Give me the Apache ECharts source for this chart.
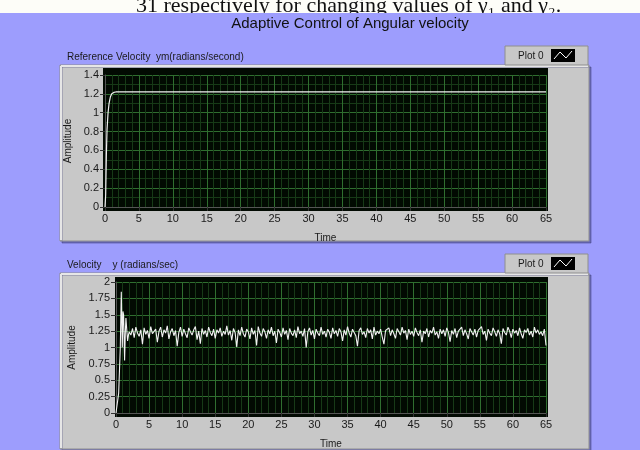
<!DOCTYPE html>
<html>
<head>
<meta charset="utf-8">
<script src="https://cdn.jsdelivr.net/npm/echarts@6/dist/echarts.min.js"></script>
<style>
  html, body { margin: 0; padding: 0; background: #9d9dfd; }
  #chart { width: 640px; height: 450px; }
</style>
</head>
<body>
<div id="chart"></div>
<script>
// reference velocity ym, explicit (time, value) pairs
const refTime = [0, 0.1, 0.2, 0.3, 0.45, 0.6, 0.8, 1.0, 1.3, 1.6, 65];
const refVel = [0, 0.13, 0.55, 0.82, 1.0, 1.1, 1.17, 1.2, 1.215, 1.22, 1.22];

// measured velocity y, start-up transient
const velStartTime = [0, 0.3, 0.4, 0.55, 0.65, 0.8, 0.95, 1.05, 1.15, 1.3, 1.4, 1.5, 1.6, 1.75, 1.9];
const velStart = [0, 0.03, 0.3, 0.32, 1.0, 1.85, 1.0, 1.55, 1.5, 0.8, 1.2, 1.45, 1.42, 1.1, 1.2];

// measured velocity y, steady part sampled every 0.25 s from t = 2
const velSteadyStart = 2;
const velSteadyStep = 0.25;
const velSteady = [
  1.24, 1.19, 1.29, 1.15, 1.31, 1.22, 1.17, 1.27, 1.05, 1.30, 1.20, 1.26, 1.14, 1.32, 1.21, 1.18, 1.28, 1.08, 1.25, 1.31,
  1.16, 1.27, 1.22, 1.33, 1.13, 1.24, 1.29, 1.18, 1.26, 1.02, 1.23, 1.31, 1.17, 1.28, 1.21, 1.15, 1.30, 1.24, 1.19, 1.27,
  1.32, 1.12, 1.25, 1.06, 1.29, 1.20, 1.26, 1.16, 1.31, 1.23, 1.18, 1.28, 1.14, 1.27, 1.22, 1.30, 1.17, 1.25, 1.20, 1.33,
  1.19, 1.26, 1.11, 1.29, 1.23, 1.01, 1.27, 1.18, 1.31, 1.21, 1.16, 1.28, 1.24, 1.13, 1.30, 1.20, 1.26, 1.03, 1.32, 1.22,
  1.17, 1.29, 1.24, 1.14, 1.27, 1.21, 1.31, 1.18, 1.25, 1.07, 1.28, 1.23, 1.16, 1.30, 1.20, 1.26, 1.12, 1.29, 1.22, 1.18,
  1.27, 1.15, 1.32, 1.21, 1.25, 1.17, 1.29, 1.00, 1.24, 1.30, 1.19, 1.26, 1.13, 1.28, 1.22, 1.18, 1.31, 1.20, 1.25, 1.16,
  1.28, 1.23, 1.14, 1.30, 1.21, 1.26, 1.17, 1.29, 1.24, 1.10, 1.27, 1.19, 1.32, 1.22, 1.16, 1.28, 1.25, 1.18, 1.02, 1.26,
  1.30, 1.20, 1.24, 1.15, 1.29, 1.22, 1.27, 1.13, 1.31, 1.19, 1.25, 1.21, 1.28, 1.16, 1.05, 1.26, 1.23, 1.30, 1.18, 1.27,
  1.21, 1.14, 1.29, 1.24, 1.19, 1.31, 1.22, 1.26, 1.12, 1.28, 1.20, 1.25, 1.17, 1.30, 1.23, 1.18, 1.27, 1.08, 1.25, 1.21,
  1.29, 1.16, 1.26, 1.22, 1.31, 1.19, 1.24, 1.14, 1.28, 1.21, 1.27, 1.17, 1.30, 1.23, 1.09, 1.26, 1.20, 1.29, 1.15, 1.25,
  1.22, 1.31, 1.18, 1.27, 1.21, 1.13, 1.29, 1.24, 1.19, 1.28, 1.16, 1.26, 1.23, 1.32, 1.20, 1.25, 1.11, 1.28, 1.22, 1.18,
  1.30, 1.24, 1.17, 1.27, 1.21, 1.06, 1.29, 1.23, 1.19, 1.31, 1.25, 1.15, 1.28, 1.22, 1.26, 1.18, 1.30, 1.21, 1.14, 1.27,
  1.23, 1.29, 1.19, 1.25, 1.16, 1.31, 1.22, 1.27, 1.20, 1.24, 1.18, 1.28, 1.03
];

const timeTicks = { min: 0, max: 65, interval: 5 };
const refTicks = { min: 0, max: 1.4, interval: 0.2 };
const velTicks = { min: 0, max: 2, interval: 0.25 };

const refData = refTime.map((t, i) => [t, refVel[i]]);
const velData = velStartTime.map((t, i) => [t, velStart[i]])
  .concat(velSteady.map((v, i) => [velSteadyStart + i * velSteadyStep, v]));

const chart = echarts.init(document.getElementById('chart'));

const font = 'Liberation Sans';
const txt = '#1a1a1a';

function panel(y) {
  return [
    { type: 'rect', z: -20, shape: { x: 60, y: y, width: 529, height: 176 },
      style: { fill: '#c8c8c8', stroke: '#8e8e8e', lineWidth: 1,
               shadowColor: 'rgba(60,60,120,0.5)', shadowOffsetX: 2, shadowOffsetY: 2 } },
    { type: 'line', z: -19, shape: { x1: 61, y1: y + 1, x2: 588, y2: y + 1 }, style: { stroke: '#e6e6e6', lineWidth: 2 } },
    { type: 'line', z: -19, shape: { x1: 61, y1: y + 1, x2: 61, y2: y + 175 }, style: { stroke: '#e6e6e6', lineWidth: 2 } }
  ];
}

function plotBox(x1, y1, x2, y2) {
  return { type: 'rect', z: -10, shape: { x: x1, y: y1, width: x2 - x1, height: y2 - y1 },
           style: { fill: '#020a02' } };
}

function legendBox(y) {
  return [
    { type: 'rect', z: -18, shape: { x: 505, y: y, width: 83, height: 19 },
      style: { fill: '#c8c8c8', stroke: '#8e8e8e', lineWidth: 1 } },
    { type: 'text', z: -17, style: { x: 518, y: y + 10, text: 'Plot 0', font: '10px ' + font,
      fill: txt, verticalAlign: 'middle' } },
    { type: 'rect', z: -17, shape: { x: 551, y: y + 3, width: 24, height: 13 }, style: { fill: '#000' } },
    { type: 'polyline', z: -16, shape: { points: [[554, y + 13], [560, y + 6], [566, y + 12], [572, y + 5]] },
      style: { stroke: '#fff', lineWidth: 1, fill: null } }
  ];
}

function xAxisOpt(gridIndex) {
  return {
    type: 'value', gridIndex: gridIndex, ...timeTicks,
    name: 'Time', nameLocation: 'middle', nameGap: 26,
    nameTextStyle: { fontFamily: font, fontSize: 10, color: txt },
    axisLine: { show: true, lineStyle: { color: '#555', width: 1 } },
    axisTick: { show: true, inside: false, length: 4, lineStyle: { color: '#333' } },
    axisLabel: { fontFamily: font, fontSize: 11, color: txt, margin: 6 },
    splitLine: { show: true, lineStyle: { color: '#2f6e2f', width: 1 } },
    minorTick: { show: false, splitNumber: 5 },
    minorSplitLine: { show: true, lineStyle: { color: '#173a17', width: 1 } }
  };
}

function yAxisOpt(gridIndex, ticks, gap, minor) {
  return {
    type: 'value', gridIndex: gridIndex, ...ticks,
    name: 'Amplitude', nameLocation: 'middle', nameGap: gap, nameRotate: 90,
    nameTextStyle: { fontFamily: font, fontSize: 10, color: txt },
    axisLine: { show: true, lineStyle: { color: '#555', width: 1 } },
    axisTick: { show: true, inside: false, length: 5, lineStyle: { color: '#333' } },
    axisLabel: { fontFamily: font, fontSize: 11, color: txt, margin: 6 },
    splitLine: { show: true, lineStyle: { color: '#2f6e2f', width: 1 } },
    minorTick: { show: false, splitNumber: 2 },
    minorSplitLine: { show: minor, lineStyle: { color: '#173a17', width: 1 } }
  };
}

const option = {
  backgroundColor: '#9d9dfd',
  animation: false,
  graphic: [
    // cropped caption from the page above the figure
    { type: 'rect', z: -30, shape: { x: 0, y: 0, width: 640, height: 13 }, style: { fill: '#fdfdf8' } },
    { type: 'text', z: -29, style: { x: 136, y: 17, text: '31 respectively for changing values of \u03b3\u2081 and \u03b3\u2082.',
      font: '22px Liberation Serif', fill: '#111', verticalAlign: 'bottom' } },
    { type: 'rect', z: -28, shape: { x: 0, y: 13, width: 640, height: 437 }, style: { fill: '#9d9dfd' } },
    { type: 'text', z: -27, style: { x: 350, y: 24, text: 'Adaptive Control of Angular velocity',
      font: '15px ' + font, fill: '#111', align: 'center', verticalAlign: 'middle' } },
    { type: 'text', z: -27, style: { x: 67, y: 57, text: 'Reference Velocity  ym(radians/second)',
      font: '10px ' + font, fill: txt, verticalAlign: 'middle' } },
    { type: 'text', z: -27, style: { x: 67, y: 265, text: 'Velocity    y (radians/sec)',
      font: '10px ' + font, fill: txt, verticalAlign: 'middle' } },
    ...panel(65),
    ...panel(273),
    ...legendBox(46),
    ...legendBox(254),
    plotBox(103, 68, 548, 211),
    plotBox(115, 277, 548, 417)
  ],
  grid: [
    { left: 105, right: 94, top: 75, bottom: 243 },
    { left: 116, right: 94, top: 282, bottom: 36 }
  ],
  xAxis: [xAxisOpt(0), xAxisOpt(1)],
  yAxis: [yAxisOpt(0, refTicks, 30, true), yAxisOpt(1, velTicks, 37, false)],
  series: [
    {
      name: 'Plot 0', type: 'line', xAxisIndex: 0, yAxisIndex: 0,
      data: refData, showSymbol: false, lineStyle: { color: '#f2f2f2', width: 1.2 }
    },
    {
      name: 'Plot 0', type: 'line', xAxisIndex: 1, yAxisIndex: 1,
      data: velData, showSymbol: false, lineStyle: { color: '#f2f2f2', width: 1.1 }
    }
  ]
};

chart.setOption(option);
</script>
</body>
</html>
